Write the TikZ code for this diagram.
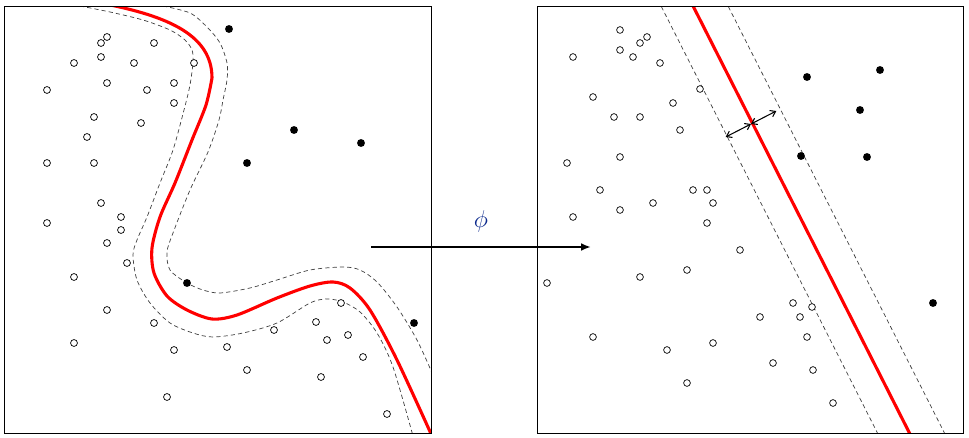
\documentclass[tikz,border=0pt]{standalone}
\usepackage{amsmath,amssymb}
\usetikzlibrary{arrows.meta,calc}
\definecolor{phiblue}{RGB}{10,40,140}

\begin{document}
\begin{tikzpicture}[
    x=0.025cm, y=-0.025cm,
    panel/.style={draw, line width=0.7pt},
    boundary/.style={red, line width=2.2pt},
    margin/.style={draw=black!75, line width=0.5pt, dash pattern=on 3pt off 2.2pt},
    negpt/.style={draw, line width=0.5pt, fill=white},
    pospt/.style={fill=black},
    maparrow/.style={-{Latex[length=7pt,width=5.5pt]}, line width=1.4pt},
    gaparrow/.style={{Straight Barb[length=3.5pt,width=5pt]}-{Straight Barb[length=3.5pt,width=5pt]}, line width=0.75pt}
]
    \useasboundingbox (0,0) rectangle (969,438);

    % Panel corners
    \coordinate (inTL) at (4.5,6.5);
    \coordinate (inBR) at (431,433);
    \coordinate (featTL) at (537,6.5);
    \coordinate (featBR) at (963,433);

    % Input space: curved boundary and margins
    \begin{scope}
        \clip (inTL) rectangle (inBR);
        \draw[margin] plot[smooth] coordinates {(80,6) (110,12) (143,20) (170,30) (185,40) (192,50) (193,62)
            (190,85) (184,110) (173,150) (160,183) (147,217) (137,240) (133,255) (137,280) (150,303)
            (170,323) (193,333) (213,337) (243,333) (277,323) (310,303) (327,299) (343,302) (360,312)
            (377,333) (393,367) (413,436)};
        \draw[margin] plot[smooth] coordinates {(163,6) (190,13) (207,27) (220,43) (227,63) (227,80)
            (223,100) (219,120) (208,152) (190,190) (173,233) (167,252) (170,270) (187,283) (203,290)
            (220,293) (250,288) (277,280) (310,270) (343,267) (360,270) (377,282) (397,307) (417,340)
            (433,375)};
        \draw[boundary] (100,3) .. controls (170,16) and (212,36) .. (212,78)
            plot[smooth] coordinates {(212,78) (206,105) (192,140) (175,183) (160,217) (152,248) (154,273)
            (167,296) (187,310) (212,319) (237,315) (277,298) (310,286) (333,282) (350,288) (370,310)
            (397,360) (432,436)};
    \end{scope}

    % Input space: data points
    \foreach \p in {(107,37),(101,43),(154,43),(101,57),(74,63),(134,63),(194,63),(107,83),(174,83),
        (47,90),(147,90),(174,103),(94,117),(141,123),(87,137),(47,163),(94,163),(101,203),(121,217),
        (47,223),(121,230),(107,243),(127,263),(74,277),(107,310),(154,323),(74,343),(174,350),(167,397),
        (341,303),(316,322),(274,330),(348,335),(327,340),(227,347),(363,357),(247,370),(321,377),(387,414)}
        \draw[negpt] \p circle (2.45pt);
    \foreach \p in {(229,29),(294,130),(361,143),(247,163),(187,283),(414,323)}
        \fill[pospt] \p circle (2.8pt);

    % Feature space: linear boundary and margins
    \begin{scope}
        \clip (featTL) rectangle (featBR);
        \draw[margin] (658,0) -- (881,440);
        \draw[margin] (725,0) -- (948,440);
        \draw[boundary] (690,0) -- (913,440);
    \end{scope}
    \coordinate (onred) at (751,124);
    \coordinate (onneg) at (725.7,137);
    \coordinate (onpos) at (776.3,111);
    \draw[gaparrow] (onneg) -- (onred);
    \draw[gaparrow] (onred) -- (onpos);

    % Feature space: data points
    \foreach \p in {(620,30),(647,37),(640,43),(620,50),(573,57),(633,57),(660,63),(700,89),(593,97),
        (673,103),(614,117),(640,117),(680,130),(620,157),(567,163),(600,190),(693,190),(707,190),
        (653,203),(713,203),(620,210),(573,217),(707,223),(740,250),(687,270),(640,277),(547,283),
        (593,337),(713,343),(667,350),(687,383),(793,303),(812,307),(760,317),(800,317),(807,337),
        (773,363),(813,370),(833,403)}
        \draw[negpt] \p circle (2.4pt);
    \foreach \p in {(807,77),(880,70),(860,110),(801,156),(867,157),(933,303)}
        \fill[pospt] \p circle (2.8pt);

    % Frames
    \draw[panel] (inTL) rectangle (inBR);
    \draw[panel] (featTL) rectangle (featBR);

    % Mapping
    \coordinate (mapfrom) at (371,247);
    \coordinate (mapto) at (591,247);
    \draw[maparrow] (mapfrom) -- (mapto);
    \node[text=phiblue, font=\fontsize{17}{17}\selectfont] (phi) at (481,221) {$\phi$};
\end{tikzpicture}
\end{document}
